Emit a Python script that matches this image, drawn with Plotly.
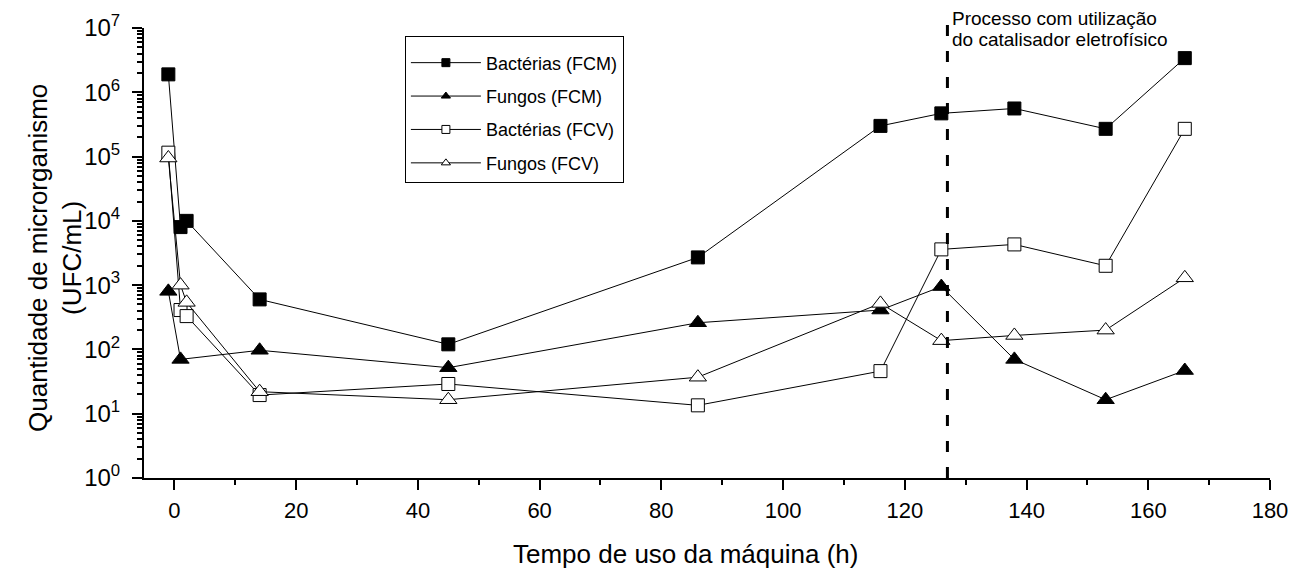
import plotly.graph_objects as go

# Data
x_bfcm = [-1, 1, 2, 14, 45, 86, 116, 126, 138, 153, 166]
y_bfcm = [1.9e6, 8.0e3, 1.0e4, 600, 120, 2.7e3, 3.0e5, 4.7e5, 5.6e5, 2.7e5, 3.4e6]

x_ffcm = [-1, 1, 14, 45, 86, 116, 126, 138, 153, 166]
y_ffcm = [800, 70, 97, 52, 260, 410, 950, 70, 16.5, 47]

x_bfcv = [-1, 1, 2, 14, 45, 86, 116, 126, 138, 153, 166]
y_bfcv = [1.15e5, 410, 330, 19.5, 29, 13.5, 46, 3.6e3, 4.3e3, 2.0e3, 2.7e5]

x_ffcv = [-1, 1, 2, 14, 45, 86, 116, 126, 138, 153, 166]
y_ffcv = [9.5e4, 1.0e3, 540, 22, 16.5, 37, 520, 137, 165, 200, 1.3e3]

names = ["Bactérias (FCM)", "Fungos (FCM)", "Bactérias (FCV)", "Fungos (FCV)"]

process_x = 127
annotation_lines = ["Processo com utilização", "do catalisador eletrofísico"]
x_title = "Tempo de uso da máquina (h)"
y_title = "Quantidade de microrganismo<br>(UFC/mL)"

x_ticks = [0, 20, 40, 60, 80, 100, 120, 140, 160, 180]
x_minor = [10, 30, 50, 70, 90, 110, 130, 150, 170]
y_ticks = [1, 10, 100, 1e3, 1e4, 1e5, 1e6, 1e7]
y_ticktext = ["10<sup>%d</sup>" % i for i in range(8)]
y_minor = [m * 10 ** k for k in range(7) for m in range(2, 10)]

FONT = "Liberation Sans, Arial, sans-serif"

fig = go.Figure()

series = [
    (x_bfcm, y_bfcm, "square", "black", 13),
    (x_ffcm, y_ffcm, "triangle-up", "black", 15),
    (x_bfcv, y_bfcv, "square", "white", 13),
    (x_ffcv, y_ffcv, "triangle-up", "white", 15),
]
for i, ((xs, ys, sym, fill, sz), nm) in enumerate(zip(series, names)):
    fig.add_trace(go.Scatter(
        x=xs, y=ys, name=nm, mode="lines+markers",
        showlegend=False,
        line=dict(color="black", width=1),
        marker=dict(symbol=sym, size=sz, color=fill,
                    line=dict(color="black", width=1)),
    ))
# legend-only entries with small markers, as in the reference legend
for i, ((xs, ys, sym, fill, sz), nm) in enumerate(zip(series, names)):
    fig.add_trace(go.Scatter(
        x=[None], y=[None], name=nm, mode="lines+markers",
        legendgroup="g%d" % i, showlegend=True,
        line=dict(color="black", width=1),
        marker=dict(symbol=sym, size=8, color=fill,
                    line=dict(color="black", width=1)),
    ))

fig.add_shape(type="line", xref="x", yref="paper",
              x0=process_x, x1=process_x, y0=0, y1=1.034,
              line=dict(color="black", width=3, dash="11px,15px"))

for txt, yp in zip(annotation_lines, [1.020, 0.974]):
    fig.add_annotation(x=process_x, y=yp, xref="x", yref="paper",
                       text=txt, showarrow=False,
                       xanchor="left", yanchor="middle", align="left", xshift=3,
                       font=dict(family=FONT, size=19, color="black"))

fig.add_annotation(x=0.4805, y=-0.169, xref="paper", yref="paper",
                   text=x_title, showarrow=False,
                   xanchor="center", yanchor="middle",
                   font=dict(family=FONT, size=26, color="black"))
fig.add_annotation(x=-0.079, y=0.489, xref="paper", yref="paper",
                   text=y_title, showarrow=False, textangle=-90,
                   xanchor="center", yanchor="middle",
                   font=dict(family=FONT, size=26, color="black"))

fig.update_layout(
    width=1300, height=569,
    margin=dict(l=144, r=30, t=28, b=91),
    paper_bgcolor="white", plot_bgcolor="white",
    font=dict(family=FONT, color="black"),
    showlegend=True,
    legend=dict(x=0.2317, y=0.983, xanchor="left", yanchor="top",
                bordercolor="black", borderwidth=1, bgcolor="white",
                font=dict(family=FONT, size=18, color="black"),
                title=dict(text=" ", font=dict(family=FONT, size=6)),
                traceorder="grouped", tracegroupgap=7,
                itemwidth=70),
    xaxis=dict(range=[-5, 180], tickmode="array", tickvals=x_ticks,
               showline=True, linecolor="black", linewidth=2,
               ticks="outside", ticklen=10, tickwidth=2, tickcolor="black",
               minor=dict(tickmode="array", tickvals=x_minor,
                          ticks="outside", ticklen=5, tickwidth=2, tickcolor="black"),
               showgrid=False, zeroline=False, ticklabelstandoff=2,
               tickfont=dict(family=FONT, size=22)),
    yaxis=dict(type="log", range=[0, 7], tickmode="array",
               tickvals=y_ticks, ticktext=y_ticktext,
               showline=True, linecolor="black", linewidth=2,
               ticks="outside", ticklen=10, tickwidth=2, tickcolor="black",
               minor=dict(tickmode="array", tickvals=y_minor,
                          ticks="outside", ticklen=5, tickwidth=1.5, tickcolor="black"),
               showgrid=False, zeroline=False, ticklabelstandoff=7,
               tickfont=dict(family=FONT, size=24)),
)

fig.write_html("out.html")
